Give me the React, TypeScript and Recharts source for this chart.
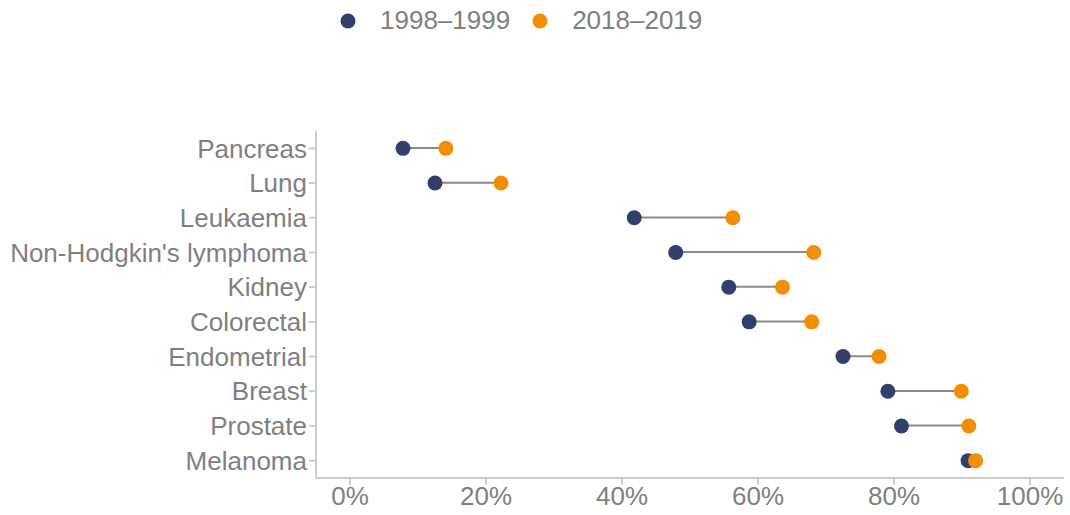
import { ComposedChart, Bar, Line, XAxis, YAxis, Legend } from "recharts";

const cancers = [
  "Pancreas",
  "Lung",
  "Leukaemia",
  "Non-Hodgkin's lymphoma",
  "Kidney",
  "Colorectal",
  "Endometrial",
  "Breast",
  "Prostate",
  "Melanoma",
];

const survival1998 = [7.8, 12.5, 41.8, 47.9, 55.7, 58.7, 72.5, 79.1, 81.1, 90.9];
const survival2018 = [14.1, 22.2, 56.3, 68.2, 63.6, 67.9, 77.8, 89.9, 91.0, 92.0];

const xTicks = [0, 20, 40, 60, 80, 100];

const NAVY = "#333f6b";
const ORANGE = "#f28e00";
const GREY = "#7f7f7f";
const AXIS = "#cccccc";

const data = cancers.map((name, i) => ({
  name,
  early: survival1998[i],
  late: survival2018[i],
  range: [survival1998[i], survival2018[i]],
}));

const legendItems = [
  { label: "1998–1999", color: NAVY },
  { label: "2018–2019", color: ORANGE },
];

const LegendContent = () => (
  <div style={{ display: "flex", alignItems: "center", paddingLeft: 340 }}>
    {legendItems.map((it) => (
      <div key={it.label} style={{ display: "flex", alignItems: "center", marginRight: 22 }}>
        <svg width={16} height={16} style={{ marginRight: 24 }}>
          <circle cx={8} cy={8} r={7.5} fill={it.color} />
        </svg>
        <span style={{ color: GREY, fontSize: 26, fontFamily: "Liberation Sans, Arial, sans-serif" }}>{it.label}</span>
      </div>
    ))}
  </div>
);

export default function App() {
  return (
    <div style={{ position: "absolute", left: 0, top: 0, background: "#fff" }}>
      <ComposedChart
        width={1070}
        height={515}
        data={data}
        layout="vertical"
        margin={{ top: 131, right: 6, bottom: 0, left: 0 }}
        style={{ fontFamily: "Liberation Sans, Arial, sans-serif" }}
      >
        <Legend
          verticalAlign="middle"
          layout="horizontal"
          content={<LegendContent />}
          wrapperStyle={{ top: 5, left: 0, width: 1070 }}
        />
        <XAxis
          type="number"
          domain={[-5, 105]}
          ticks={xTicks}
          tickFormatter={(v) => `${v}%`}
          height={37}
          tickSize={7}
          tick={{ fill: GREY, fontSize: 26 }}
          axisLine={{ stroke: AXIS, strokeWidth: 2 }}
          tickLine={{ stroke: AXIS, strokeWidth: 2 }}
          allowDataOverflow
        />
        <YAxis
          type="category"
          dataKey="name"
          width={316}
          tickSize={7}
          interval={0}
          tick={{ fill: GREY, fontSize: 26 }}
          axisLine={{ stroke: AXIS, strokeWidth: 2 }}
          tickLine={{ stroke: AXIS, strokeWidth: 2 }}
        />
        <Bar dataKey="range" barSize={2} fill="#8a8a8a" isAnimationActive={false} legendType="none" />
        <Line
          dataKey="early"
          stroke="none"
          dot={{ r: 7.5, fill: NAVY, stroke: "none" }}
          activeDot={false}
          isAnimationActive={false}
        />
        <Line
          dataKey="late"
          stroke="none"
          dot={{ r: 7.5, fill: ORANGE, stroke: "none" }}
          activeDot={false}
          isAnimationActive={false}
        />
      </ComposedChart>
    </div>
  );
}
